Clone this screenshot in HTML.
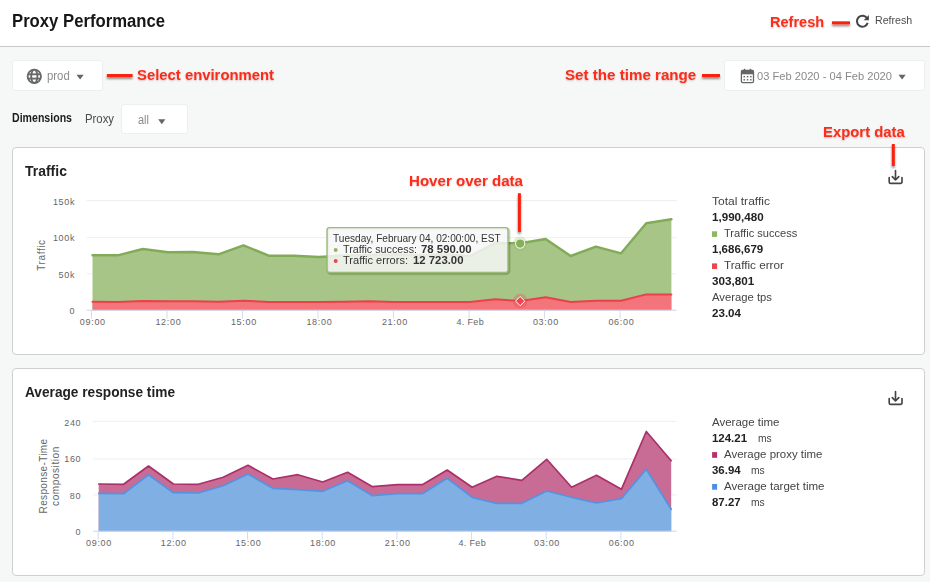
<!DOCTYPE html>
<html lang="en"><head><meta charset="utf-8"><title>Proxy Performance</title>
<style>
html,body{margin:0;padding:0}
body{width:930px;height:582px;position:relative;overflow:hidden;background:#f6f8f8;font-family:"Liberation Sans",sans-serif}
.t{position:absolute;white-space:nowrap;line-height:1;transform-origin:0 0;display:block}
.abs{position:absolute}
.rot{transform:translate(-50%,-50%) rotate(-90deg);transform-origin:50% 50%}
.box{position:absolute;background:#fff;border:1px solid #eceef0;border-radius:3px;box-sizing:border-box}
.card{position:absolute;background:#fff;border:1px solid #cfcfcf;border-radius:4px;box-sizing:border-box}
svg{position:absolute;left:0;top:0;overflow:visible}
</style></head><body>
<div class="abs" id="header" style="left:0;top:0;width:930px;height:46px;background:#fff;border-bottom:1px solid #c9c9c9"></div>
<div class="box" style="left:12px;top:60px;width:90.5px;height:31px"></div>
<div class="box" style="left:724px;top:60px;width:201px;height:31px"></div>
<div class="box" style="left:121.2px;top:104.2px;width:66.8px;height:30px"></div>
<div class="card" style="left:12px;top:147px;width:913px;height:207.5px"></div>
<div class="card" style="left:12px;top:368px;width:913px;height:207.5px"></div>

<svg width="930" height="582" viewBox="0 0 930 582">
<line x1="86.7" x2="676.7" y1="200.5" y2="200.5" stroke="#eeeeee" stroke-width="1"/>
<line x1="86.7" x2="676.7" y1="237.7" y2="237.7" stroke="#eeeeee" stroke-width="1"/>
<line x1="86.7" x2="676.7" y1="273.8" y2="273.8" stroke="#eeeeee" stroke-width="1"/>
<path d="M92.5,255.3 L117.7,255.3 L142.8,249.0 L168.0,252.3 L193.2,252.0 L218.4,254.3 L243.5,245.3 L268.7,255.7 L293.9,255.7 L319.0,257.0 L344.2,255.5 L369.4,255.0 L394.5,254.5 L419.7,255.0 L444.9,254.5 L470.1,256.0 L495.2,243.0 L520.4,243.3 L545.6,239.0 L570.7,256.0 L595.9,246.7 L621.1,253.3 L646.2,223.3 L671.4,219.3 L671.4,310.2 L92.5,310.2 Z" fill="#a7c586"/>
<path d="M92.5,255.3 L117.7,255.3 L142.8,249.0 L168.0,252.3 L193.2,252.0 L218.4,254.3 L243.5,245.3 L268.7,255.7 L293.9,255.7 L319.0,257.0 L344.2,255.5 L369.4,255.0 L394.5,254.5 L419.7,255.0 L444.9,254.5 L470.1,256.0 L495.2,243.0 L520.4,243.3 L545.6,239.0 L570.7,256.0 L595.9,246.7 L621.1,253.3 L646.2,223.3 L671.4,219.3" fill="none" stroke="#82ab58" stroke-width="2.4" stroke-linejoin="round" stroke-linecap="round"/>
<path d="M92.5,301.7 L117.7,301.9 L142.8,301.0 L168.0,301.3 L193.2,301.2 L218.4,301.8 L243.5,300.7 L268.7,302.0 L293.9,302.0 L319.0,302.0 L344.2,301.7 L369.4,301.3 L394.5,302.0 L419.7,302.0 L444.9,302.0 L470.1,302.0 L495.2,299.3 L520.4,301.0 L545.6,297.3 L570.7,302.0 L595.9,300.7 L621.1,300.7 L646.2,294.4 L671.4,294.6 L671.4,310.2 L92.5,310.2 Z" fill="#f3757b"/>
<path d="M92.5,301.7 L117.7,301.9 L142.8,301.0 L168.0,301.3 L193.2,301.2 L218.4,301.8 L243.5,300.7 L268.7,302.0 L293.9,302.0 L319.0,302.0 L344.2,301.7 L369.4,301.3 L394.5,302.0 L419.7,302.0 L444.9,302.0 L470.1,302.0 L495.2,299.3 L520.4,301.0 L545.6,297.3 L570.7,302.0 L595.9,300.7 L621.1,300.7 L646.2,294.4 L671.4,294.6" fill="none" stroke="#ec404a" stroke-width="2.0" stroke-linejoin="round" stroke-linecap="round"/>
<line x1="86.7" x2="676.7" y1="310.2" y2="310.2" stroke="#ccd6eb" stroke-width="1"/>
<line x1="91.5" x2="91.5" y1="310.2" y2="318.7" stroke="#d3dcee" stroke-width="1"/>
<line x1="167.0" x2="167.0" y1="310.2" y2="318.7" stroke="#d3dcee" stroke-width="1"/>
<line x1="242.5" x2="242.5" y1="310.2" y2="318.7" stroke="#d3dcee" stroke-width="1"/>
<line x1="318.0" x2="318.0" y1="310.2" y2="318.7" stroke="#d3dcee" stroke-width="1"/>
<line x1="393.5" x2="393.5" y1="310.2" y2="318.7" stroke="#d3dcee" stroke-width="1"/>
<line x1="469.1" x2="469.1" y1="310.2" y2="318.7" stroke="#d3dcee" stroke-width="1"/>
<line x1="544.6" x2="544.6" y1="310.2" y2="318.7" stroke="#d3dcee" stroke-width="1"/>
<line x1="620.1" x2="620.1" y1="310.2" y2="318.7" stroke="#d3dcee" stroke-width="1"/>
<line x1="93" x2="676.7" y1="421.3" y2="421.3" stroke="#eeeeee" stroke-width="1"/>
<line x1="93" x2="676.7" y1="458.9" y2="458.9" stroke="#eeeeee" stroke-width="1"/>
<line x1="93" x2="676.7" y1="494.9" y2="494.9" stroke="#eeeeee" stroke-width="1"/>
<path d="M98.7,484.0 L123.6,484.3 L148.5,466.0 L173.4,484.0 L198.3,484.3 L223.2,477.3 L248.0,465.3 L272.9,479.0 L297.8,474.7 L322.7,482.0 L347.6,472.3 L372.5,486.7 L397.4,484.7 L422.3,484.7 L447.2,470.0 L472.1,487.3 L496.9,476.3 L521.8,480.3 L546.7,459.3 L571.6,487.3 L596.5,475.3 L621.4,489.3 L646.3,431.5 L671.2,460.7 L671.2,531.2 L98.7,531.2 Z" fill="#c96c95"/>
<path d="M98.7,484.0 L123.6,484.3 L148.5,466.0 L173.4,484.0 L198.3,484.3 L223.2,477.3 L248.0,465.3 L272.9,479.0 L297.8,474.7 L322.7,482.0 L347.6,472.3 L372.5,486.7 L397.4,484.7 L422.3,484.7 L447.2,470.0 L472.1,487.3 L496.9,476.3 L521.8,480.3 L546.7,459.3 L571.6,487.3 L596.5,475.3 L621.4,489.3 L646.3,431.5 L671.2,460.7" fill="none" stroke="#ab3069" stroke-width="1.7" stroke-linejoin="round" stroke-linecap="round"/>
<path d="M98.7,493.3 L123.6,493.7 L148.5,474.7 L173.4,492.7 L198.3,493.0 L223.2,485.7 L248.0,474.0 L272.9,488.3 L297.8,489.7 L322.7,491.3 L347.6,480.7 L372.5,495.7 L397.4,493.7 L422.3,493.7 L447.2,478.3 L472.1,497.3 L496.9,503.3 L521.8,503.3 L546.7,491.0 L571.6,497.3 L596.5,503.0 L621.4,498.7 L646.3,469.3 L671.2,509.3 L671.2,531.2 L98.7,531.2 Z" fill="#7fafe3"/>
<path d="M98.7,493.3 L123.6,493.7 L148.5,474.7 L173.4,492.7 L198.3,493.0 L223.2,485.7 L248.0,474.0 L272.9,488.3 L297.8,489.7 L322.7,491.3 L347.6,480.7 L372.5,495.7 L397.4,493.7 L422.3,493.7 L447.2,478.3 L472.1,497.3 L496.9,503.3 L521.8,503.3 L546.7,491.0 L571.6,497.3 L596.5,503.0 L621.4,498.7 L646.3,469.3 L671.2,509.3" fill="none" stroke="#5294e2" stroke-width="1.7" stroke-linejoin="round" stroke-linecap="round"/>
<line x1="93" x2="676.7" y1="531.2" y2="531.2" stroke="#ccd6eb" stroke-width="1"/>
<line x1="98.2" x2="98.2" y1="531.2" y2="539.7" stroke="#d3dcee" stroke-width="1"/>
<line x1="172.9" x2="172.9" y1="531.2" y2="539.7" stroke="#d3dcee" stroke-width="1"/>
<line x1="247.5" x2="247.5" y1="531.2" y2="539.7" stroke="#d3dcee" stroke-width="1"/>
<line x1="322.2" x2="322.2" y1="531.2" y2="539.7" stroke="#d3dcee" stroke-width="1"/>
<line x1="396.9" x2="396.9" y1="531.2" y2="539.7" stroke="#d3dcee" stroke-width="1"/>
<line x1="471.6" x2="471.6" y1="531.2" y2="539.7" stroke="#d3dcee" stroke-width="1"/>
<line x1="546.2" x2="546.2" y1="531.2" y2="539.7" stroke="#d3dcee" stroke-width="1"/>
<line x1="620.9" x2="620.9" y1="531.2" y2="539.7" stroke="#d3dcee" stroke-width="1"/>
<circle cx="520.15" cy="243.6" r="7.2" fill="#8fb965" fill-opacity=".28"/>
<circle cx="520.15" cy="243.6" r="4.6" fill="#86b058" stroke="#eef4e6" stroke-width="1.1"/>
<circle cx="520.15" cy="301.1" r="7.3" fill="#e8474e" fill-opacity=".3"/>
<path d="M520.15,296.5 L524.75,301.1 L520.15,305.7 L515.55,301.1 Z" fill="#ee444e" stroke="#fff" stroke-width="1"/>
</svg>

<!-- icons -->
<svg width="930" height="582" viewBox="0 0 930 582">
 <defs>
  <filter id="sh" x="-50%" y="-50%" width="200%" height="300%"><feGaussianBlur in="SourceAlpha" stdDeviation="1.3"/><feOffset dy="1.5" result="b"/><feComponentTransfer><feFuncA type="linear" slope=".45"/></feComponentTransfer><feMerge><feMergeNode/><feMergeNode in="SourceGraphic"/></feMerge></filter>
 </defs>
 <!-- refresh icon -->
 <g fill="none" stroke="#444" stroke-width="2">
  <path d="M867.2,18.4 A5.5,5.5 0 1 0 867.7,22.9"/>
 </g>
 <path d="M868.9,15.1 L868.9,20.3 L863.7,20.3 Z" fill="#444"/>
 <!-- globe -->
 <g fill="none" stroke="#686868" stroke-width="1.85">
  <circle cx="34.3" cy="76.3" r="6.7"/>
  <ellipse cx="34.3" cy="76.3" rx="3.1" ry="6.7"/>
  <line x1="27.8" y1="74.3" x2="40.8" y2="74.3"/>
  <line x1="27.8" y1="78.6" x2="40.8" y2="78.6"/>
 </g>
 <!-- carets -->
 <path d="M76.5,74.7 L83.7,74.7 L80.1,79.6 Z" fill="#666"/>
 <path d="M158.2,119.3 L165.4,119.3 L161.8,124.2 Z" fill="#666"/>
 <path d="M898.5,74.7 L905.7,74.7 L902.1,79.6 Z" fill="#666"/>
 <!-- calendar -->
 <g>
  <rect x="741.4" y="70.5" width="12.1" height="12.1" rx="1.3" fill="#fff" stroke="#666" stroke-width="1.3"/>
  <rect x="741.4" y="70.5" width="12.1" height="3.8" fill="#666"/>
  <rect x="743.8" y="68.8" width="1.5" height="2.5" fill="#666"/>
  <rect x="749.7" y="68.8" width="1.5" height="2.5" fill="#666"/>
  <g fill="#666">
   <rect x="743.5" y="76" width="1.5" height="1.4"/><rect x="746.8" y="76" width="1.5" height="1.4"/><rect x="750.1" y="76" width="1.5" height="1.4"/>
   <rect x="743.5" y="79.1" width="1.5" height="1.4"/><rect x="746.8" y="79.1" width="1.5" height="1.4"/><rect x="750.1" y="79.1" width="1.5" height="1.4"/>
  </g>
 </g>
 <!-- export icons -->
 <g id="exp1" fill="none" stroke="#444" stroke-width="1.65" stroke-linecap="round" stroke-linejoin="round">
  <path d="M889.2,177.5 V181.9 A1.5,1.5 0 0 0 890.7,183.4 H900.5 A1.5,1.5 0 0 0 902,181.9 V177.5"/>
  <path d="M895.5,170.5 V180 M892.3,176.6 L895.5,180 L898.8,176.6"/>
 </g>
 <g fill="none" stroke="#444" stroke-width="1.65" stroke-linecap="round" stroke-linejoin="round" transform="translate(0,221)">
  <path d="M889.2,177.5 V181.9 A1.5,1.5 0 0 0 890.7,183.4 H900.5 A1.5,1.5 0 0 0 902,181.9 V177.5"/>
  <path d="M895.5,170.5 V180 M892.3,176.6 L895.5,180 L898.8,176.6"/>
 </g>
 <!-- legend squares -->
 <rect x="712" y="231.3" width="5.1" height="5.6" fill="#8fb760"/>
 <rect x="712" y="263.4" width="5.1" height="5.6" fill="#e8474e"/>
 <rect x="712.1" y="452.1" width="5" height="5.7" fill="#b5326b"/>
 <rect x="712.1" y="484" width="5" height="5.7" fill="#4a90e2"/>
 <!-- red annotation lines -->
 <g fill="#fb2210" filter="url(#sh)">
  <rect x="832" y="21.3" width="18" height="3"/>
  <rect x="106.8" y="74" width="25.8" height="3"/>
  <rect x="702" y="74" width="18" height="3"/>
  <rect x="891.8" y="144" width="3" height="22"/>
  <rect x="517.9" y="193.2" width="3" height="38.7"/>
 </g>
</svg>
<!-- rotated axis titles -->
<span class="t rot" style="left:41.6px;top:254.7px;font-size:10px;color:#666;letter-spacing:.6px">Traffic</span>
<span class="t rot" style="left:43.8px;top:476.4px;font-size:10px;color:#666;letter-spacing:.35px">Response-Time</span>
<span class="t rot" style="left:55.8px;top:476.4px;font-size:10px;color:#666;letter-spacing:.58px">composition</span>
<!-- tooltip -->

<svg width="930" height="582" viewBox="0 0 930 582">
 <rect x="328.05" y="228.6" width="180.95" height="44.9" rx="3" fill="none" stroke="#000" stroke-opacity=".1" stroke-width="3.4"/>
 <rect x="328.05" y="228.6" width="180.95" height="44.9" rx="3" fill="none" stroke="#000" stroke-opacity=".12" stroke-width="1.8"/>
 <rect id="tip" x="327.05" y="227.6" width="180.95" height="44.9" rx="2.5" fill="#f7f7f7" fill-opacity=".85" stroke="#97bd70" stroke-width="1.4"/>
 <circle cx="335.7" cy="250.1" r="2" fill="#8fb760"/>
 <circle cx="335.7" cy="261.1" r="2" fill="#e8474e"/>
</svg>

<span class="t" style="left:12.0px;top:12.0px;font-size:18px;color:#161616;font-weight:bold;transform:scaleX(0.9268);">Proxy Performance</span>
<span class="t" style="left:770.3px;top:15.0px;font-size:14.5px;color:#fb2c19;font-weight:bold;transform:scaleX(1.0037);text-shadow:0 1px 2px rgba(120,0,0,.25);">Refresh</span>
<span class="t" style="left:874.9px;top:15.0px;font-size:11.5px;color:#4d4d4d;transform:scaleX(0.9235);">Refresh</span>
<span class="t" style="left:47.3px;top:70.0px;font-size:12px;color:#8c8c8c;transform:scaleX(0.9488);">prod</span>
<span class="t" style="left:137.0px;top:68.0px;font-size:14.5px;color:#fb2c19;font-weight:bold;transform:scaleX(1.0242);text-shadow:0 1px 2px rgba(120,0,0,.25);">Select environment</span>
<span class="t" style="left:564.9px;top:68.0px;font-size:14.5px;color:#fb2c19;font-weight:bold;transform:scaleX(1.0445);text-shadow:0 1px 2px rgba(120,0,0,.25);">Set the time range</span>
<span class="t" style="left:757.2px;top:71.0px;font-size:11.2px;color:#8a8a8a;transform:scaleX(0.9955);">03 Feb 2020 - 04 Feb 2020</span>
<span class="t" style="left:12.0px;top:112.0px;font-size:12px;color:#1c1c1c;font-weight:bold;transform:scaleX(0.8822);">Dimensions</span>
<span class="t" style="left:85.0px;top:113.0px;font-size:12px;color:#4d4d4d;transform:scaleX(0.9450);">Proxy</span>
<span class="t" style="left:138.0px;top:114.0px;font-size:12px;color:#8a8a8a;transform:scaleX(0.9155);">all</span>
<span class="t" style="left:823.3px;top:125.0px;font-size:14.5px;color:#fb2c19;font-weight:bold;transform:scaleX(1.0255);text-shadow:0 1px 2px rgba(120,0,0,.25);">Export data</span>
<span class="t" style="left:409.4px;top:174.0px;font-size:14.5px;color:#fb2c19;font-weight:bold;transform:scaleX(1.0401);text-shadow:0 1px 2px rgba(120,0,0,.25);">Hover over data</span>
<span class="t" style="left:25.2px;top:163.0px;font-size:15px;color:#222;font-weight:bold;transform:scaleX(0.9308);">Traffic</span>
<span class="t" style="left:25.1px;top:384.0px;font-size:15px;color:#222;font-weight:bold;transform:scaleX(0.9117);">Average response time</span>
<span class="t" style="left:712.0px;top:196.0px;font-size:11.5px;color:#444;transform:scaleX(1.0468);">Total traffic</span>
<span class="t" style="left:712.0px;top:212.0px;font-size:11.5px;color:#222;font-weight:bold;transform:scaleX(1.0103);">1,990,480</span>
<span class="t" style="left:723.9px;top:228.0px;font-size:11.5px;color:#444;transform:scaleX(0.9637);">Traffic success</span>
<span class="t" style="left:712.0px;top:244.0px;font-size:11.5px;color:#222;font-weight:bold;transform:scaleX(1.0005);">1,686,679</span>
<span class="t" style="left:723.9px;top:260.0px;font-size:11.5px;color:#444;transform:scaleX(1.0188);">Traffic error</span>
<span class="t" style="left:712.0px;top:276.0px;font-size:11.5px;color:#222;font-weight:bold;transform:scaleX(1.0174);">303,801</span>
<span class="t" style="left:711.6px;top:292.0px;font-size:11.5px;color:#444;transform:scaleX(0.9808);">Average tps</span>
<span class="t" style="left:712.0px;top:308.0px;font-size:11.5px;color:#222;font-weight:bold;transform:scaleX(1.0076);">23.04</span>
<span class="t" style="left:711.6px;top:417.0px;font-size:11.5px;color:#444;transform:scaleX(0.9978);">Average time</span>
<span class="t" style="left:712.0px;top:433.0px;font-size:11.5px;color:#222;font-weight:bold;transform:scaleX(0.9947);">124.21</span>
<span class="t" style="left:757.6px;top:433.0px;font-size:11.5px;color:#444;transform:scaleX(0.8929);">ms</span>
<span class="t" style="left:723.5px;top:449.0px;font-size:11.5px;color:#444;transform:scaleX(0.9962);">Average proxy time</span>
<span class="t" style="left:712.0px;top:465.0px;font-size:11.5px;color:#222;font-weight:bold;transform:scaleX(0.9937);">36.94</span>
<span class="t" style="left:750.6px;top:465.0px;font-size:11.5px;color:#444;transform:scaleX(0.8929);">ms</span>
<span class="t" style="left:723.5px;top:481.0px;font-size:11.5px;color:#444;transform:scaleX(1.0034);">Average target time</span>
<span class="t" style="left:712.0px;top:497.0px;font-size:11.5px;color:#222;font-weight:bold;transform:scaleX(0.9937);">87.27</span>
<span class="t" style="left:750.6px;top:497.0px;font-size:11.5px;color:#444;transform:scaleX(0.8929);">ms</span>
<span class="t" style="left:332.9px;top:234.0px;font-size:10px;color:#333;transform:scaleX(1.0084);">Tuesday, February 04, 02:00:00, EST</span>
<span class="t" style="left:342.6px;top:245.0px;font-size:10px;color:#333;transform:scaleX(1.0739);">Traffic success:</span>
<span class="t" style="left:421.0px;top:245.0px;font-size:10px;color:#333;font-weight:bold;transform:scaleX(1.1371);">78 590.00</span>
<span class="t" style="left:342.6px;top:256.0px;font-size:10px;color:#333;transform:scaleX(1.1034);">Traffic errors:</span>
<span class="t" style="left:412.9px;top:256.0px;font-size:10px;color:#333;font-weight:bold;transform:scaleX(1.1348);">12 723.00</span>
<span class="t" style="left:52.9px;top:198.0px;font-size:9px;color:#666;letter-spacing:0.66px;">150k</span>
<span class="t" style="left:52.9px;top:234.0px;font-size:9px;color:#666;letter-spacing:0.66px;">100k</span>
<span class="t" style="left:58.4px;top:271.0px;font-size:9px;color:#666;letter-spacing:0.74px;">50k</span>
<span class="t" style="left:69.4px;top:307.0px;font-size:9px;color:#666;">0</span>
<span class="t" style="left:79.8px;top:318.0px;font-size:9px;color:#666;letter-spacing:0.69px;">09:00</span>
<span class="t" style="left:155.4px;top:318.0px;font-size:9px;color:#666;letter-spacing:0.69px;">12:00</span>
<span class="t" style="left:230.9px;top:318.0px;font-size:9px;color:#666;letter-spacing:0.69px;">15:00</span>
<span class="t" style="left:306.4px;top:318.0px;font-size:9px;color:#666;letter-spacing:0.69px;">18:00</span>
<span class="t" style="left:381.9px;top:318.0px;font-size:9px;color:#666;letter-spacing:0.69px;">21:00</span>
<span class="t" style="left:456.4px;top:318.0px;font-size:9px;color:#666;letter-spacing:0.36px;">4. Feb</span>
<span class="t" style="left:532.9px;top:318.0px;font-size:9px;color:#666;letter-spacing:0.69px;">03:00</span>
<span class="t" style="left:608.4px;top:318.0px;font-size:9px;color:#666;letter-spacing:0.69px;">06:00</span>
<span class="t" style="left:64.3px;top:419.0px;font-size:9px;color:#666;letter-spacing:0.63px;">240</span>
<span class="t" style="left:64.3px;top:455.0px;font-size:9px;color:#666;letter-spacing:0.63px;">160</span>
<span class="t" style="left:69.8px;top:492.0px;font-size:9px;color:#666;letter-spacing:0.78px;">80</span>
<span class="t" style="left:75.6px;top:528.0px;font-size:9px;color:#666;">0</span>
<span class="t" style="left:86.0px;top:539.0px;font-size:9px;color:#666;letter-spacing:0.69px;">09:00</span>
<span class="t" style="left:160.7px;top:539.0px;font-size:9px;color:#666;letter-spacing:0.69px;">12:00</span>
<span class="t" style="left:235.4px;top:539.0px;font-size:9px;color:#666;letter-spacing:0.69px;">15:00</span>
<span class="t" style="left:310.1px;top:539.0px;font-size:9px;color:#666;letter-spacing:0.69px;">18:00</span>
<span class="t" style="left:384.7px;top:539.0px;font-size:9px;color:#666;letter-spacing:0.69px;">21:00</span>
<span class="t" style="left:458.4px;top:539.0px;font-size:9px;color:#666;letter-spacing:0.36px;">4. Feb</span>
<span class="t" style="left:534.1px;top:539.0px;font-size:9px;color:#666;letter-spacing:0.69px;">03:00</span>
<span class="t" style="left:608.7px;top:539.0px;font-size:9px;color:#666;letter-spacing:0.69px;">06:00</span>
</body></html>
